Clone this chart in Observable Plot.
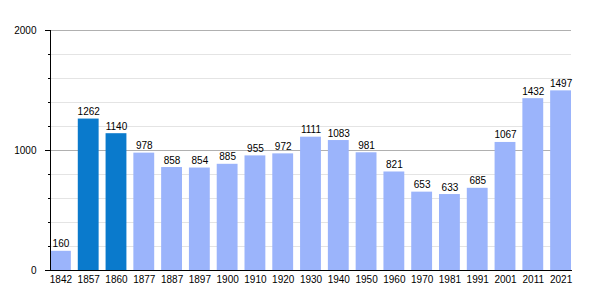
<!DOCTYPE html>
<html>
<head>
<meta charset="utf-8">
<script src="https://cdn.jsdelivr.net/npm/d3@7"></script>
<script src="https://cdn.jsdelivr.net/npm/@observablehq/plot@0.6"></script>
<style>
  html, body { margin: 0; padding: 0; background: #fff; }
</style>
</head>
<body>
<div id="chart"></div>
<script>
const years = ["1842","1857","1860","1877","1887","1897","1900","1910","1920","1930","1940","1950","1960","1970","1981","1991","2001","2011","2021"];
const population = [160,1262,1140,978,858,854,885,955,972,1111,1083,981,821,653,633,685,1067,1432,1497];
const highlighted = ["1857","1860"];
const majorTicks = [0,1000,2000];
const minorTicks = [200,400,600,800,1200,1400,1600,1800];

const data = years.map((y, i) => ({year: y, value: population[i], hi: highlighted.includes(y)}));

const chart = Plot.plot({
  width: 600,
  height: 300,
  marginTop: 30,
  marginBottom: 30,
  marginLeft: 50,
  marginRight: 29,
  style: {fontFamily: "'Liberation Sans', Arial, sans-serif", fontSize: "10px", color: "#000", background: "#fff"},
  x: {domain: years, paddingInner: 0.25, paddingOuter: 0, round: false, label: null},
  y: {domain: [0, 2000], label: null},
  marks: [
    Plot.ruleY(minorTicks, {stroke: "#e4e4e4", strokeWidth: 1}),
    Plot.ruleY([1000, 2000], {stroke: "#b0b0b0", strokeWidth: 1}),
    Plot.barY(data, {x: "year", y: "value", fill: d => d.hi ? "#0a7acc" : "#9bb4fb"}),
    Plot.text(data, {x: "year", y: "value", text: d => String(d.value), lineAnchor: "bottom", dy: -4, fill: "#000", fontSize: 10}),
    Plot.axisY(minorTicks, {tickSize: 2, label: null, tickFormat: () => "", stroke: "#000"}),
    Plot.axisY(majorTicks, {tickSize: 5, tickPadding: 9, label: null, tickFormat: d => String(d), stroke: "#000", fill: "#000", fontSize: 10}),
    Plot.axisX({tickSize: 0, tickPadding: 5, label: null, fill: "#000", fontSize: 10}),
    Plot.frame({anchor: "left", stroke: "#000"}),
    Plot.frame({anchor: "bottom", stroke: "#000"})
  ]
});
document.getElementById("chart").appendChild(chart);
</script>
</body>
</html>
